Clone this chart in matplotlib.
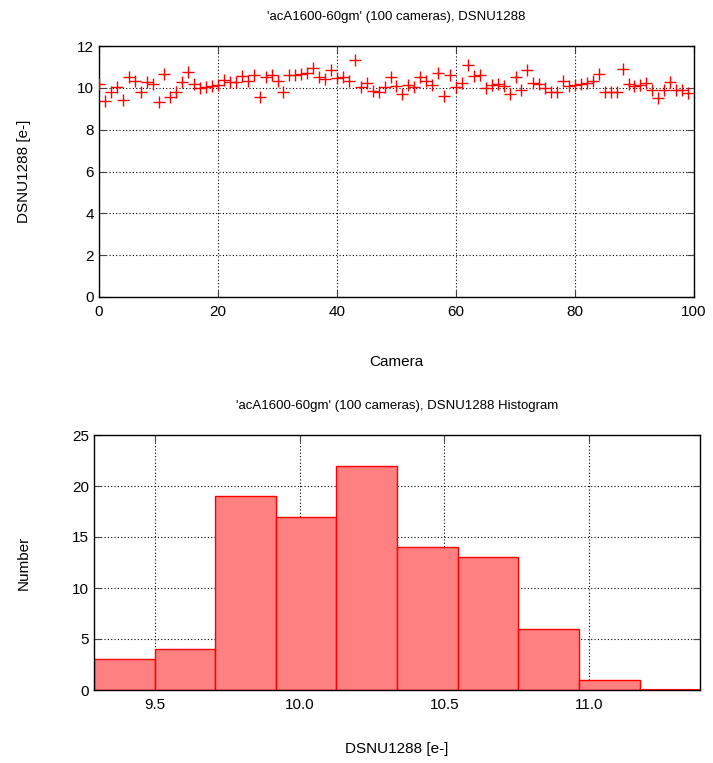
import numpy as np
import matplotlib
matplotlib.use("Agg")
import matplotlib.pyplot as plt

plt.rcParams['font.family'] = ['Liberation Sans', 'DejaVu Sans']

cameras = list(range(100))
dsnu = [10.19, 9.39, 9.82, 10.06, 9.43, 10.51, 10.35, 9.79, 10.30, 10.19,
        9.30, 10.67, 9.58, 9.78, 10.30, 10.78, 10.19, 9.98, 10.03, 10.11,
        10.14, 10.38, 10.30, 10.30, 10.57, 10.35, 10.62, 9.58, 10.54, 10.62,
        10.35, 9.82, 10.62, 10.62, 10.67, 10.73, 10.94, 10.54, 10.42, 10.83,
        10.46, 10.54, 10.35, 11.34, 10.06, 10.22, 9.87, 9.82, 10.03, 10.54,
        10.10, 9.70, 10.14, 10.06, 10.54, 10.35, 10.14, 10.73, 9.62, 10.62,
        10.03, 10.25, 11.10, 10.57, 10.62, 9.98, 10.14, 10.19, 10.10, 9.70,
        10.54, 9.90, 10.86, 10.22, 10.19, 9.98, 9.82, 9.82, 10.35, 10.10,
        10.14, 10.19, 10.22, 10.35, 10.67, 9.82, 9.82, 9.82, 10.89, 10.19,
        10.10, 10.14, 10.25, 9.90, 9.50, 9.90, 10.30, 9.90, 9.90, 9.77]

hist_edges = [9.289, 9.499, 9.708, 9.918, 10.127, 10.337, 10.546, 10.756, 10.965, 11.175, 11.384]
hist_counts = [3, 4, 19, 17, 22, 14, 13, 6, 1, 0]

title_top = "'acA1600-60gm' (100 cameras), DSNU1288"
title_bot = "'acA1600-60gm' (100 cameras), DSNU1288 Histogram"

W, H = 713, 763
fig = plt.figure(figsize=(W / 100, H / 100), dpi=100)

def rect(l, t, r, b):
    return [l / W, 1 - b / H, (r - l) / W, (b - t) / H]

grid_kw = dict(color='black', linestyle=(0, (1, 2)), linewidth=0.8)

# top scatter
ax1 = fig.add_axes(rect(99, 46, 694, 297))
ax1.plot(cameras, dsnu, linestyle='none', marker='+', color='red',
         markersize=9, markeredgewidth=1.0, zorder=3)
ax1.set_xlim(0, 100)
ax1.set_ylim(0, 12)
ax1.set_xticks([0, 20, 40, 60, 80, 100])
ax1.set_yticks([0, 2, 4, 6, 8, 10, 12])
ax1.grid(True, **grid_kw)
ax1.set_axisbelow(True)
ax1.set_title(title_top, fontsize=9.5, pad=19)
ax1.set_xlabel('Camera', fontsize=11, labelpad=26)
ax1.set_ylabel('DSNU1288 [e-]', fontsize=11, labelpad=33)

# bottom histogram
ax2 = fig.add_axes(rect(94, 435, 700, 690))
widths = np.diff(hist_edges)
ax2.bar(hist_edges[:-1], hist_counts, width=widths, align='edge',
        facecolor='#ff8080', edgecolor='red', linewidth=1.0, zorder=2)
ax2.plot([hist_edges[-2], hist_edges[-1]], [0, 0], color='red', linewidth=1.5, zorder=3)
ax2.set_xlim(hist_edges[0], hist_edges[-1])
ax2.set_ylim(0, 25)
ax2.set_xticks([9.5, 10.0, 10.5, 11.0])
ax2.set_xticklabels(['9.5', '10.0', '10.5', '11.0'])
ax2.set_yticks([0, 5, 10, 15, 20, 25])
ax2.grid(True, **grid_kw)
ax2.set_axisbelow(True)
ax2.set_title(title_bot, fontsize=9.5, pad=19)
ax2.set_xlabel('DSNU1288 [e-]', fontsize=11, labelpad=21)
ax2.set_ylabel('Number', fontsize=11, labelpad=30)

for ax in (ax1, ax2):
    ax.tick_params(direction='in', top=True, right=True, length=5,
                   labelsize=11, color='#444444')
    ax.tick_params(axis='x', pad=6)
    for s in ax.spines.values():
        s.set_linewidth(1.0)

fig.savefig('out.png', dpi=100)
